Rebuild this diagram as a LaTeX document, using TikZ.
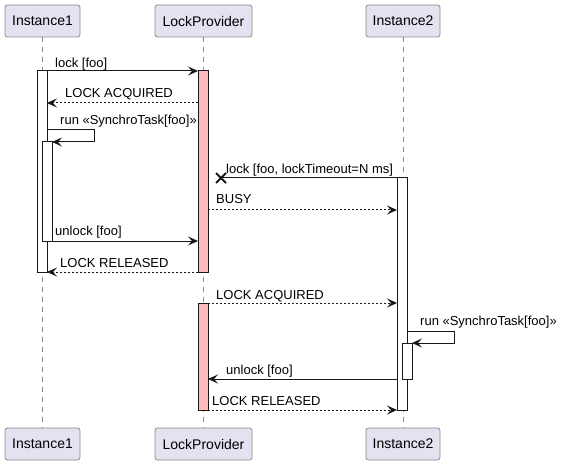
\documentclass[tikz,border=0pt]{standalone}
\usepackage{fontspec}
\setmainfont{Liberation Sans}
\usetikzlibrary{arrows.meta,calc}
\definecolor{partfill}{HTML}{E2E2F0}
\definecolor{linec}{HTML}{181818}
\definecolor{partline}{HTML}{8A8A8A}
\definecolor{actpink}{HTML}{FFBBBB}
\begin{document}
\begin{tikzpicture}[x=1pt,y=-1pt,
  part/.style={draw=partline, fill=partfill, rounded corners=2.5pt, minimum height=32pt,
    inner sep=0pt, line width=0.8pt, font=\fontsize{14}{16}\selectfont},
  lifeline/.style={draw=partline, line width=0.8pt, dash pattern=on 5pt off 5pt},
  actbox/.style={draw=linec, fill=white, line width=1pt},
  actlock/.style={draw=linec, fill=actpink, line width=1pt},
  msg/.style={draw=linec, line width=1pt, -{Stealth[length=10pt,width=9pt,inset=4pt]}},
  ret/.style={msg, dash pattern=on 2pt off 2pt},
  lbl/.style={anchor=base west, inner sep=0pt, font=\fontsize{13}{15}\selectfont, text=black}]
\useasboundingbox (0,0) rectangle (562,465);
% participants
\node[part, minimum width=75pt] (i1t) at (42.5,21) {Instance1};
\node[part, minimum width=97pt] (lpt) at (203.5,21) {LockProvider};
\node[part, minimum width=74pt] (i2t) at (403,21) {Instance2};
\node[part, minimum width=75pt] (i1b) at (42.5,444) {Instance1};
\node[part, minimum width=97pt] (lpb) at (203.5,444) {LockProvider};
\node[part, minimum width=74pt] (i2b) at (403,444) {Instance2};
% lifelines
\draw[lifeline] (i1t.south) -- (i1b.north);
\draw[lifeline] (lpt.south) -- (lpb.north);
\draw[lifeline] (i2t.south) -- (i2b.north);
% activations
\draw[actbox] (37,71) rectangle (47,272);
\draw[actbox] (42,142) rectangle (52,241);
\draw[actlock] (198,71) rectangle (208,272);
\draw[actbox] (397,178) rectangle (407,410);
\draw[actbox] (402,343) rectangle (412,379);
\draw[actlock] (198,303) rectangle (208,410);
% message end points
\coordinate (m1a) at (47,71);   \coordinate (m1b) at (198,71);
\coordinate (m2a) at (198,103); \coordinate (m2b) at (47,103);
\coordinate (m3a) at (47,130);  \coordinate (m3c) at (94,142); \coordinate (m3b) at (52,142);
\coordinate (m4a) at (397,178); \coordinate (m4b) at (221,178);
\coordinate (m5a) at (208,210); \coordinate (m5b) at (397,210);
\coordinate (m6a) at (52,241);  \coordinate (m6b) at (198,241);
\coordinate (m7a) at (198,272); \coordinate (m7b) at (47,272);
\coordinate (m8a) at (208,303); \coordinate (m8b) at (397,303);
\coordinate (m9a) at (407,331); \coordinate (m9c) at (454,343); \coordinate (m9b) at (412,343);
\coordinate (m10a) at (397,379); \coordinate (m10b) at (208,379);
\coordinate (m11a) at (208,410); \coordinate (m11b) at (397,410);
% messages
\draw[msg] (m1a) -- (m1b);
\draw[ret] (m2a) -- (m2b);
\draw[msg] (m3a) -| (m3c) -- (m3b);
\draw[draw=linec, line width=1pt] (m4a) -- (m4b);
\draw[draw=linec, line width=2pt] ($(m4b)+(-5,-5)$) -- ($(m4b)+(5,5)$) ($(m4b)+(-5,5)$) -- ($(m4b)+(5,-5)$);
\draw[ret] (m5a) -- (m5b);
\draw[msg] (m6a) -- (m6b);
\draw[ret] (m7a) -- (m7b);
\draw[ret] (m8a) -- (m8b);
\draw[msg] (m9a) -| (m9c) -- (m9b);
\draw[msg] (m10a) -- (m10b);
\draw[ret] (m11a) -- (m11b);
% labels
\node[lbl] (l1) at (55,68) {lock [foo]};
\node[lbl] (l2) at (65,98) {LOCK ACQUIRED};
\node[lbl] (l3) at (60,125) {run «SynchroTask[foo]»};
\node[lbl] (l4) at (226,174) {lock [foo, lockTimeout=N ms]};
\node[lbl] (l5) at (216,204) {BUSY};
\node[lbl] (l6) at (55,236) {unlock [foo]};
\node[lbl] (l7) at (60,267) {LOCK RELEASED};
\node[lbl] (l8) at (216,299) {LOCK ACQUIRED};
\node[lbl] (l9) at (420,325) {run «SynchroTask[foo]»};
\node[lbl] (l10) at (226,374) {unlock [foo]};
\node[lbl] (l11) at (212,405) {LOCK RELEASED};
\end{tikzpicture}
\end{document}
